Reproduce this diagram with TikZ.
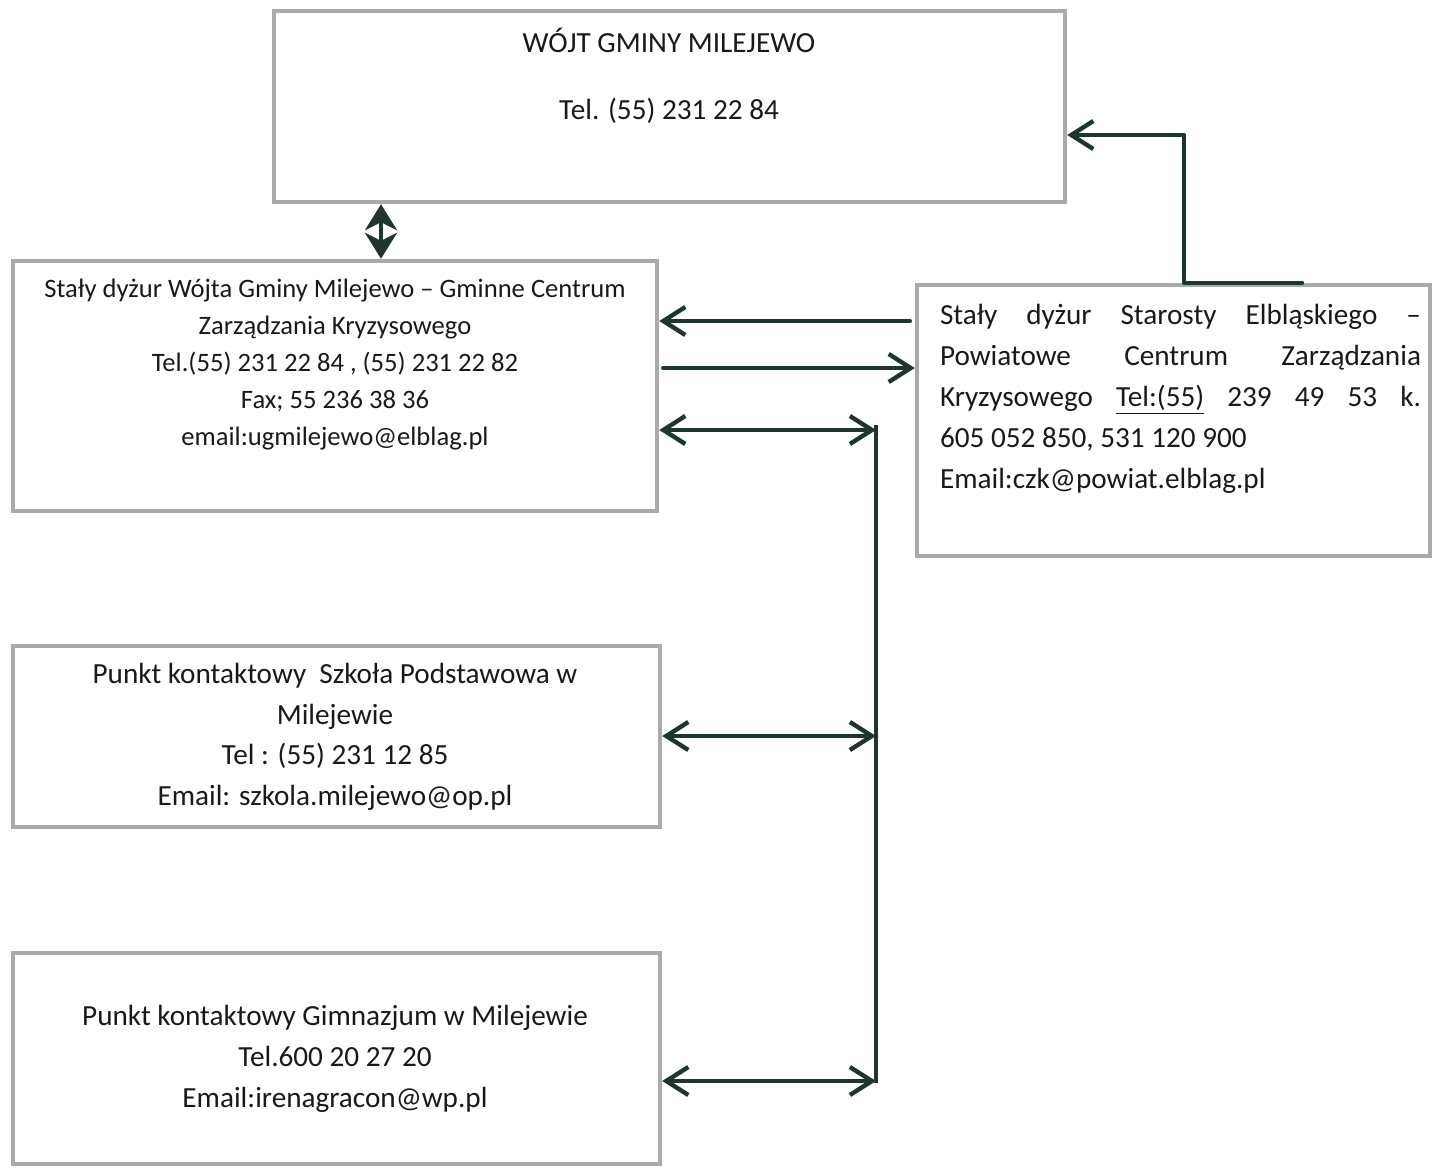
\documentclass[tikz,border=0pt]{standalone}
\usepackage{fontspec}
\setmainfont{Carlito}
\usetikzlibrary{arrows.meta}
\usetikzlibrary{positioning}
\definecolor{framegray}{RGB}{170,170,170}
\definecolor{linkgreen}{RGB}{30,54,47}
\newcommand{\spreadline}[1]{\makebox[240.5pt][s]{\spaceskip=\fontdimen2\font plus 1fil\relax #1}}

\begin{document}
\begin{tikzpicture}[line cap=round,line join=round, x=0.5pt, y=-0.5pt,
	frame/.style={draw=framegray, line width=2.2pt, line cap=butt, line join=miter, rectangle, inner sep=0pt},
	txt/.style={inner sep=0pt, align=center, text=black!90},
	link/.style={draw=linkgreen, line width=2.2pt},
	>={Straight Barb[length=11pt,width=14pt]}]
	\useasboundingbox (0,0) rectangle (1439,1167);
	\node[frame, minimum width=395.5pt, minimum height=95.5pt] (wojt) at (669.5,106.5) {};
	\node[frame, minimum width=322pt, minimum height=125pt] (gczk) at (335,386) {};
	\node[frame, minimum width=256.5pt, minimum height=135.5pt] (pczk) at (1173.5,420.5) {};
	\node[frame, minimum width=323.5pt, minimum height=90.5pt] (szkola) at (336.5,736.5) {};
	\node[frame, minimum width=323.5pt, minimum height=105.5pt] (gimn) at (336.5,1058.5) {};
	\node[txt, font=\fontsize{14.6}{33.5}\selectfont] (wojt-txt) at (669,76) {WÓJT GMINY MILEJEWO\\Tel. (55) 231 22 84};
	\node[txt, font=\fontsize{13.3}{18.5}\selectfont] (gczk-txt) at (335,365) {Stały dyżur Wójta Gminy Milejewo – Gminne Centrum\\Zarządzania Kryzysowego\\Tel.(55) 231 22 84 , (55) 231 22 82\\Fax; 55 236 38 36\\email:ugmilejewo@elblag.pl};
	\node[txt, align=left, text width=240.5pt, font=\fontsize{14.6}{20.5}\selectfont] (pczk-txt) at (1180.5,399) {\spaceskip=0pt\xspaceskip=0pt\relax\spreadline{Stały dyżur Starosty Elbląskiego –}\\\spreadline{Powiatowe Centrum Zarządzania}\\\spreadline{Kryzysowego \underline{Tel:(55)} 239 49 53 k.}\\605 052 850, 531 120 900\\Email:czk@powiat.elblag.pl};
	\node[txt, font=\fontsize{14.6}{20.35}\selectfont] (szkola-txt) at (335,737) {Punkt kontaktowy \ Szkoła Podstawowa w\\Milejewie\\Tel : (55) 231 12 85\\Email: szkola.milejewo@op.pl};
	\node[txt, font=\fontsize{14.6}{20.5}\selectfont] (gimn-txt) at (335,1059) {Punkt kontaktowy Gimnazjum w Milejewie\\Tel.600 20 27 20\\Email:irenagracon@wp.pl};
	\coordinate (dbl) at (381,0);
	\coordinate (bus) at (876,0);
	\coordinate (up) at (1184,0);
	\coordinate (src) at (1302,0);
	\coordinate (r0) at (0,135);
	\coordinate (r1) at (0,321);
	\coordinate (r2) at (0,368);
	\coordinate (r3) at (0,430);
	\coordinate (r4) at (0,736);
	\coordinate (r5) at (0,1081);
	\draw[link, {Stealth[length=13pt,width=16pt,inset=4pt]}-{Stealth[length=13pt,width=16pt,inset=4pt]}] (wojt.south -| dbl) -- (gczk.north -| dbl);
	\draw[link, ->] ([xshift=-2.5pt]pczk.west |- r1) -- (gczk.east |- r1);
	\draw[link, ->] ([xshift=2pt]gczk.east |- r2) -- (pczk.west |- r2);
	\draw[link, line cap=butt] ([yshift=2.5pt]bus |- r3) -- ([yshift=-1pt]bus |- r5);
	\draw[link, <->] (gczk.east |- r3) -- (bus |- r3);
	\draw[link, <->] (szkola.east |- r4) -- (bus |- r4);
	\draw[link, <->] (gimn.east |- r5) -- (bus |- r5);
	\draw[link, ->] (pczk.north -| src) -- (pczk.north -| up) |- (wojt.east |- r0);
\end{tikzpicture}
\end{document}
